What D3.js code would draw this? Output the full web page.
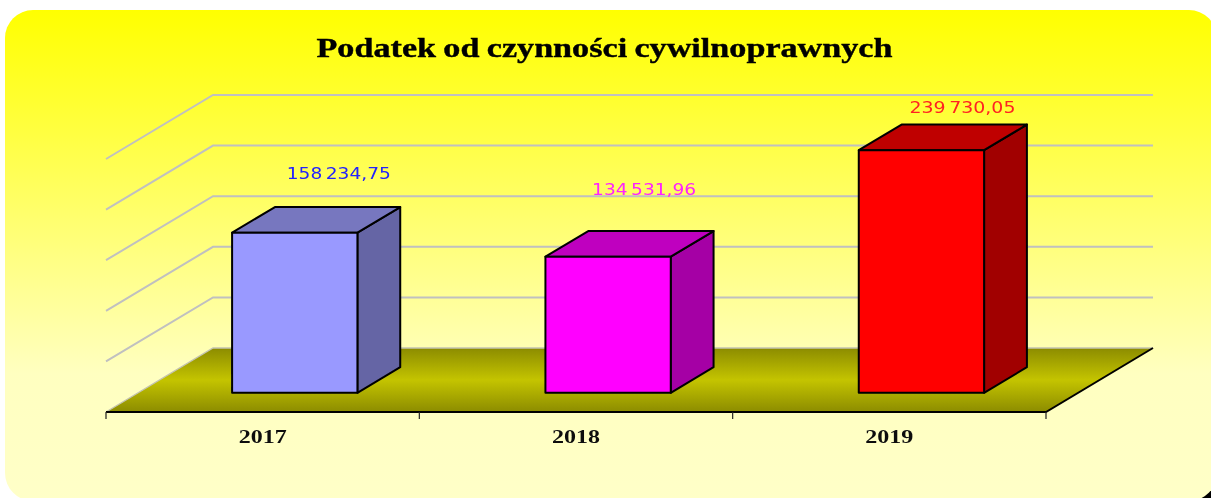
<!DOCTYPE html>
<html><head><meta charset="utf-8">
<script src="https://cdn.jsdelivr.net/npm/d3@7/dist/d3.min.js"></script>
<style>html,body{margin:0;padding:0;background:#fff;overflow:hidden}svg{display:block}</style>
</head><body><script>
const categories = ["2017","2018","2019"];
const values = [158234.75,134531.96,239730.05];
const valueLabels = ["158 234,75","134 531,96","239 730,05"];
const frontColors = ["#9999ff","#ff00ff","#ff0000"];
const topColors = ["#7777bf","#bf00bf","#bf0000"];
const sideColors = ["#6565a5","#a500a5","#a10000"];
const labelColors = ["#2020ff","#ff20ff","#ff2020"];
const yTicks = [50000,100000,150000,200000,250000];
const titleText = "Podatek od czynności cywilnoprawnych";

const W=1211,H=498;
const svg=d3.select("body").append("svg").attr("width",W).attr("height",H);
const defs=svg.append("defs");
const bg=defs.append("linearGradient").attr("id","bg").attr("x1",0).attr("x2",0).attr("y1",0).attr("y2",1);
bg.append("stop").attr("offset",0).attr("stop-color","#ffff00");
bg.append("stop").attr("offset",0.74).attr("stop-color","#ffffc0");
bg.append("stop").attr("offset",1).attr("stop-color","#ffffc8");
const fl=defs.append("linearGradient").attr("id","floor").attr("x1",0).attr("x2",0).attr("y1",0).attr("y2",1);
fl.append("stop").attr("offset",0).attr("stop-color","#8c8c00");
fl.append("stop").attr("offset",0.5).attr("stop-color","#c4c400");
fl.append("stop").attr("offset",1).attr("stop-color","#8c8c00");
defs.append("filter").attr("id","soft").attr("x","-5%").attr("y","-5%").attr("width","110%").attr("height","110%")
  .append("feGaussianBlur").attr("stdDeviation",0.45);

// panel with dark shadow corner
svg.append("rect").attr("x",20).attr("y",20).attr("width",1201).attr("height",486).attr("rx",28).attr("fill","#000");
svg.append("rect").attr("x",5).attr("y",10).attr("width",1212).attr("height",491).attr("rx",28).attr("fill","url(#bg)");

const chart=svg.append("g").attr("filter","url(#soft)");

// 3D geometry
const frontLeft=106, frontRight=1046, floorFront=412;
const depthX=107, depthY=-64;
const x=d3.scaleBand().domain(categories).range([frontLeft,frontRight]).paddingInner(0).paddingOuter(0);
const y=d3.scaleLinear().domain([0,250000]).range([0,253]);
const barFrac=0.4, barDepth=0.4, barFront=0.3;

// floor
const floorPts=[[frontLeft,floorFront],[frontLeft+depthX,floorFront+depthY],[frontRight+depthX,floorFront+depthY],[frontRight,floorFront]];
const line=d3.line();
chart.append("path").attr("d",line(floorPts)+"Z").attr("fill","url(#floor)");

// gridlines
const gy=v=>floorFront-y(v);
chart.append("g").selectAll("path").data(yTicks).join("path")
  .attr("d",v=>line([[frontLeft,gy(v)],[frontLeft+depthX,gy(v)+depthY],[frontRight+depthX,gy(v)+depthY]]))
  .attr("fill","none").attr("stroke","#c0c0c0").attr("stroke-width",2);
chart.append("path").attr("d",line([[frontLeft,floorFront],[frontLeft+depthX,floorFront+depthY],[frontRight+depthX,floorFront+depthY]]))
  .attr("fill","none").attr("stroke","#c4c4b0").attr("stroke-width",1.4);

// axis front edge
chart.append("path").attr("d",line([[frontLeft,floorFront],[frontRight,floorFront],[frontRight+depthX,floorFront+depthY]]))
  .attr("fill","none").attr("stroke","#000").attr("stroke-width",2);
const tickXs=categories.map(c=>x(c)).concat([frontRight]);
chart.append("g").selectAll("line").data(tickXs).join("line")
  .attr("x1",d=>d).attr("x2",d=>d).attr("y1",floorFront).attr("y2",floorFront+7)
  .attr("stroke","#222").attr("stroke-width",1.2);

// bars
const bw=x.bandwidth()*barFrac;
const oy=-depthY*barFront;
const dx=depthX*barDepth, dy=depthY*barDepth;
const labelShiftX=[44,36,41], labelShiftY=[-54,-62,-37];
const bars=chart.append("g").selectAll("g").data(categories).join("g");
bars.each(function(c,i){
  const g=d3.select(this);
  const cx=x(c)+x.bandwidth()/2+depthX*barFront;
  const x0=cx-bw/2, x1=cx+bw/2, yb=floorFront-oy, yt=yb-y(values[i]);
  const st=s=>s.attr("stroke","#000").attr("stroke-width",2).attr("stroke-linejoin","round");
  g.append("path").attr("d",line([[x1,yb],[x1+dx,yb+dy],[x1+dx,yt+dy],[x1,yt]])+"Z").attr("fill",sideColors[i]).call(st);
  g.append("path").attr("d",line([[x0,yt],[x0+dx,yt+dy],[x1+dx,yt+dy],[x1,yt]])+"Z").attr("fill",topColors[i]).call(st);
  g.append("rect").attr("x",x0).attr("y",yt).attr("width",bw).attr("height",yb-yt).attr("fill",frontColors[i]).call(st);
  g.append("text").attr("x",cx+labelShiftX[i]).attr("y",yt+labelShiftY[i])
    .attr("text-anchor","middle").attr("font-family","'DejaVu Sans'").attr("font-size",16)
    .attr("word-spacing",-2)
    .attr("textLength",i===2?106:104).attr("lengthAdjust","spacingAndGlyphs")
    .attr("fill",labelColors[i]).text(valueLabels[i]);
});

// category labels
chart.append("g").selectAll("text").data(categories).join("text")
  .attr("x",c=>x(c)+x.bandwidth()/2).attr("y",443)
  .attr("text-anchor","middle").attr("font-family","'Liberation Serif'").attr("font-weight","bold")
  .attr("font-size",19).attr("textLength",48).attr("lengthAdjust","spacingAndGlyphs").attr("fill","#111").text(c=>c);

// title
chart.append("text").attr("x",604.5).attr("y",57).attr("text-anchor","middle")
  .attr("font-family","'Liberation Serif'").attr("font-weight","bold").attr("font-size",28)
  .attr("word-spacing",-1).attr("stroke","#000").attr("stroke-width",0.4)
  .attr("textLength",576).attr("lengthAdjust","spacingAndGlyphs").attr("fill","#000").text(titleText);
</script></body></html>
